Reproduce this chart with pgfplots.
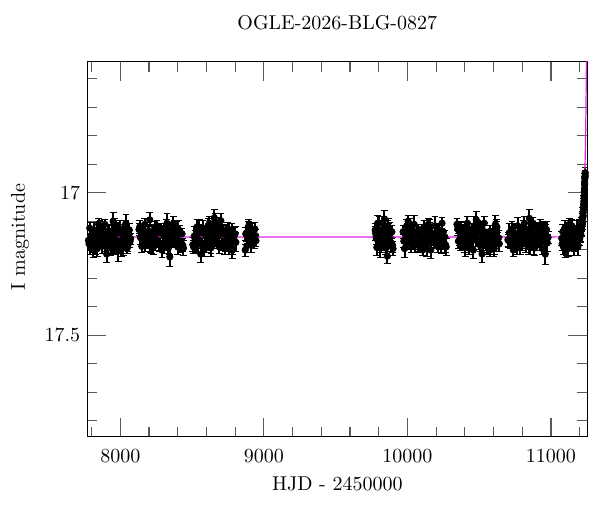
\documentclass[border=0pt]{standalone}
\usepackage{pgfplots}
\usepackage{pgfplotstable}
\pgfplotsset{compat=1.18}

\pgfplotstableread{
t mag err
7778 17.167 0.024
7787 17.124 0.019
7797 17.160 0.028
7806 17.179 0.022
7816 17.137 0.031
7825 17.196 0.020
7835 17.148 0.026
7844 17.174 0.023
7854 17.129 0.029
7863 17.157 0.021
7873 17.188 0.025
7882 17.143 0.033
7892 17.111 0.018
7901 17.170 0.027
7905 17.215 0.030
7911 17.163 0.022
7920 17.134 0.024
7930 17.182 0.019
7939 17.152 0.028
7949 17.192 0.022
7950 17.100 0.030
7958 17.120 0.031
7968 17.165 0.020
7977 17.140 0.026
7985 17.205 0.035
7987 17.176 0.023
7996 17.127 0.029
8006 17.201 0.021
8015 17.146 0.025
8025 17.158 0.033
8034 17.116 0.018
8044 17.172 0.027
8053 17.184 0.022
8063 17.131 0.024
8072 17.161 0.019
7782 17.179 0.023
7792 17.188 0.029
7801 17.152 0.021
7811 17.201 0.025
7820 17.161 0.033
7830 17.144 0.018
7839 17.196 0.027
7849 17.111 0.022
7858 17.120 0.024
7868 17.158 0.019
7877 17.168 0.028
7887 17.167 0.022
7896 17.174 0.031
7906 17.163 0.020
7915 17.140 0.026
7925 17.172 0.023
7934 17.190 0.029
7944 17.160 0.021
7953 17.157 0.025
7963 17.182 0.033
7972 17.127 0.018
7982 17.131 0.027
7991 17.180 0.022
8001 17.137 0.024
8010 17.143 0.019
8020 17.192 0.028
8029 17.146 0.022
8039 17.107 0.031
8048 17.194 0.020
8058 17.148 0.026
8068 17.170 0.023
8130 17.129 0.020
8140 17.157 0.026
8150 17.188 0.023
8160 17.143 0.029
8170 17.111 0.021
8180 17.170 0.025
8190 17.163 0.033
8200 17.134 0.018
8205 17.095 0.025
8210 17.182 0.027
8220 17.152 0.022
8230 17.192 0.024
8240 17.120 0.019
8250 17.165 0.028
8260 17.140 0.022
8270 17.176 0.031
8280 17.127 0.020
8290 17.201 0.026
8300 17.146 0.023
8310 17.158 0.029
8320 17.116 0.021
8330 17.172 0.025
8340 17.184 0.033
8345 17.225 0.035
8350 17.131 0.018
8360 17.161 0.027
8370 17.107 0.022
8380 17.168 0.024
8390 17.154 0.019
8400 17.190 0.028
8410 17.136 0.022
8420 17.180 0.031
8430 17.144 0.020
8440 17.194 0.026
8135 17.120 0.023
8145 17.158 0.029
8155 17.168 0.021
8165 17.167 0.025
8175 17.174 0.033
8185 17.163 0.018
8195 17.140 0.027
8205 17.172 0.022
8215 17.190 0.024
8225 17.160 0.019
8235 17.157 0.028
8245 17.182 0.022
8255 17.127 0.031
8265 17.131 0.020
8275 17.180 0.026
8285 17.137 0.023
8295 17.143 0.029
8305 17.192 0.021
8315 17.146 0.025
8325 17.107 0.033
8335 17.194 0.018
8345 17.148 0.027
8355 17.170 0.022
8365 17.165 0.024
8375 17.116 0.019
8385 17.154 0.028
8395 17.124 0.022
8405 17.129 0.031
8415 17.134 0.020
8425 17.176 0.026
8435 17.184 0.023
8505 17.182 0.025
8515 17.152 0.033
8524 17.192 0.018
8534 17.120 0.027
8544 17.165 0.022
8553 17.140 0.024
8560 17.215 0.030
8563 17.176 0.019
8573 17.127 0.028
8582 17.201 0.022
8592 17.146 0.031
8602 17.158 0.020
8611 17.116 0.026
8621 17.172 0.023
8631 17.184 0.029
8640 17.131 0.021
8650 17.161 0.025
8655 17.088 0.028
8660 17.107 0.033
8669 17.168 0.018
8679 17.154 0.027
8689 17.190 0.022
8698 17.136 0.024
8700 17.098 0.025
8708 17.180 0.019
8718 17.144 0.028
8727 17.194 0.022
8737 17.167 0.031
8747 17.124 0.020
8756 17.160 0.026
8766 17.179 0.023
8776 17.137 0.029
8785 17.196 0.021
8795 17.148 0.025
8805 17.174 0.033
8510 17.190 0.023
8520 17.160 0.029
8530 17.157 0.021
8540 17.182 0.025
8550 17.127 0.033
8560 17.131 0.018
8570 17.180 0.027
8580 17.137 0.022
8590 17.143 0.024
8600 17.192 0.019
8610 17.146 0.028
8620 17.107 0.022
8630 17.194 0.031
8640 17.148 0.020
8650 17.170 0.026
8660 17.165 0.023
8670 17.116 0.029
8680 17.154 0.021
8690 17.124 0.025
8700 17.129 0.033
8710 17.134 0.018
8720 17.176 0.027
8730 17.184 0.022
8740 17.136 0.024
8750 17.179 0.019
8760 17.188 0.028
8770 17.152 0.022
8780 17.201 0.031
8790 17.161 0.020
8800 17.144 0.026
8870 17.201 0.021
8878 17.146 0.025
8887 17.158 0.024
8895 17.116 0.022
8903 17.172 0.020
8912 17.184 0.026
8920 17.131 0.023
8928 17.161 0.024
8937 17.127 0.022
8945 17.168 0.021
8874 17.144 0.023
8882 17.186 0.022
8891 17.121 0.021
8899 17.130 0.025
8907 17.158 0.024
8916 17.168 0.020
8924 17.167 0.022
8932 17.174 0.023
8941 17.150 0.021
9775 17.131 0.024
9783 17.161 0.019
9792 17.107 0.028
9800 17.168 0.022
9808 17.154 0.031
9817 17.190 0.020
9825 17.136 0.026
9833 17.180 0.023
9840 17.092 0.030
9842 17.144 0.029
9850 17.194 0.021
9858 17.167 0.025
9860 17.222 0.025
9867 17.124 0.033
9875 17.160 0.018
9883 17.179 0.027
9892 17.137 0.022
9900 17.196 0.024
9779 17.143 0.023
9787 17.192 0.029
9796 17.146 0.021
9804 17.107 0.025
9812 17.194 0.033
9821 17.148 0.018
9829 17.170 0.027
9837 17.165 0.022
9846 17.116 0.024
9854 17.154 0.019
9862 17.124 0.028
9871 17.129 0.022
9879 17.134 0.031
9887 17.176 0.020
9896 17.184 0.026
9970 17.137 0.022
9980 17.196 0.031
9989 17.148 0.020
9999 17.174 0.026
10005 17.100 0.022
10009 17.129 0.023
10018 17.157 0.029
10028 17.188 0.021
10038 17.143 0.025
10047 17.111 0.033
10057 17.170 0.018
10067 17.163 0.027
10076 17.134 0.022
10086 17.182 0.024
10096 17.152 0.019
10105 17.192 0.028
10115 17.120 0.022
10125 17.165 0.031
10134 17.140 0.020
10144 17.176 0.026
10154 17.127 0.023
10163 17.201 0.029
10173 17.146 0.021
10183 17.158 0.025
10192 17.116 0.033
10202 17.172 0.018
10212 17.184 0.027
10221 17.131 0.022
10231 17.161 0.024
10241 17.107 0.019
10250 17.168 0.028
10260 17.154 0.022
10270 17.190 0.031
9975 17.170 0.023
9985 17.165 0.029
9995 17.116 0.021
10005 17.154 0.025
10015 17.124 0.033
10025 17.129 0.018
10035 17.134 0.027
10045 17.176 0.022
10055 17.184 0.024
10065 17.136 0.019
10075 17.179 0.028
10085 17.188 0.022
10095 17.152 0.031
10105 17.201 0.020
10115 17.161 0.026
10125 17.144 0.023
10135 17.196 0.029
10145 17.111 0.021
10155 17.120 0.025
10165 17.158 0.033
10175 17.168 0.018
10185 17.167 0.027
10195 17.174 0.022
10205 17.163 0.024
10215 17.140 0.019
10225 17.172 0.028
10235 17.190 0.022
10245 17.160 0.031
10255 17.157 0.020
10265 17.182 0.026
10345 17.111 0.020
10355 17.170 0.026
10364 17.163 0.023
10374 17.134 0.029
10383 17.182 0.021
10393 17.152 0.025
10402 17.192 0.033
10412 17.120 0.018
10421 17.165 0.027
10431 17.140 0.022
10440 17.176 0.024
10450 17.127 0.019
10459 17.201 0.028
10469 17.146 0.022
10478 17.158 0.031
10480 17.095 0.030
10488 17.116 0.020
10497 17.172 0.026
10507 17.184 0.023
10516 17.131 0.029
10520 17.215 0.030
10526 17.161 0.021
10535 17.107 0.025
10545 17.168 0.033
10554 17.154 0.018
10564 17.190 0.027
10573 17.136 0.022
10583 17.180 0.024
10592 17.144 0.019
10602 17.194 0.028
10611 17.167 0.022
10621 17.124 0.031
10630 17.160 0.020
10640 17.179 0.026
10350 17.127 0.023
10360 17.131 0.029
10369 17.180 0.021
10379 17.137 0.025
10389 17.143 0.033
10399 17.192 0.018
10408 17.146 0.027
10418 17.107 0.022
10428 17.194 0.024
10438 17.148 0.019
10447 17.170 0.028
10457 17.165 0.022
10467 17.116 0.031
10477 17.154 0.020
10487 17.124 0.026
10496 17.129 0.023
10506 17.134 0.029
10516 17.176 0.021
10526 17.184 0.025
10535 17.136 0.033
10545 17.179 0.018
10555 17.188 0.027
10565 17.152 0.022
10574 17.201 0.024
10584 17.161 0.019
10594 17.144 0.028
10604 17.196 0.022
10613 17.111 0.031
10623 17.120 0.020
10635 17.158 0.026
10700 17.165 0.025
10710 17.140 0.033
10719 17.176 0.018
10729 17.127 0.027
10738 17.201 0.022
10748 17.146 0.024
10758 17.158 0.019
10767 17.116 0.028
10777 17.172 0.022
10786 17.184 0.031
10796 17.131 0.020
10806 17.161 0.026
10815 17.107 0.023
10825 17.168 0.029
10834 17.154 0.021
10844 17.190 0.025
10850 17.090 0.030
10854 17.136 0.033
10863 17.180 0.018
10873 17.144 0.027
10882 17.194 0.022
10892 17.167 0.024
10902 17.124 0.019
10911 17.160 0.028
10921 17.179 0.022
10930 17.137 0.031
10940 17.196 0.020
10950 17.148 0.026
10959 17.174 0.023
10960 17.215 0.035
10969 17.129 0.029
10980 17.157 0.021
10705 17.168 0.023
10715 17.167 0.029
10725 17.174 0.021
10735 17.163 0.025
10745 17.140 0.033
10755 17.172 0.018
10765 17.190 0.027
10775 17.160 0.022
10785 17.157 0.024
10795 17.182 0.019
10805 17.127 0.028
10815 17.131 0.022
10825 17.180 0.031
10835 17.137 0.020
10845 17.143 0.026
10855 17.192 0.023
10865 17.146 0.029
10875 17.107 0.021
10885 17.194 0.025
10895 17.148 0.033
10905 17.170 0.018
10915 17.165 0.027
10925 17.116 0.022
10935 17.154 0.024
10945 17.124 0.019
10955 17.129 0.028
10965 17.134 0.022
10975 17.176 0.031
11075 17.160 0.024
11082 17.137 0.026
11089 17.179 0.022
11096 17.124 0.028
11103 17.168 0.020
11110 17.190 0.031
11117 17.144 0.023
11124 17.131 0.025
11131 17.182 0.022
11138 17.152 0.027
11145 17.116 0.021
11152 17.170 0.029
11159 17.196 0.024
11166 17.140 0.026
11172 17.161 0.022
11178 17.127 0.028
11184 17.175 0.025
11190 17.148 0.023
11195 17.120 0.027
11200 17.162 0.024
11204 17.133 0.022
11208 17.145 0.025
11211 17.110 0.023
11214 17.128 0.024
11217 17.095 0.022
11220 17.105 0.023
11222 17.072 0.021
11224 17.080 0.022
11226 17.050 0.020
11228 17.040 0.021
11230 17.012 0.020
11232 16.995 0.019
11234 16.962 0.019
11236 16.950 0.018
11238 16.940 0.018
11078 17.179 0.023
11085 17.188 0.029
11092 17.152 0.021
11099 17.201 0.025
11106 17.161 0.033
11113 17.144 0.018
11120 17.196 0.027
11127 17.111 0.022
11134 17.120 0.024
11141 17.158 0.019
11148 17.168 0.028
11155 17.167 0.022
11162 17.174 0.031
11169 17.163 0.020
11175 17.140 0.026
11181 17.172 0.023
11187 17.190 0.029
11193 17.160 0.021
11206 17.150 0.025
11212 17.125 0.024
11216 17.115 0.022
11219 17.090 0.023
11223 17.085 0.022
11227 17.060 0.021
11229 17.030 0.020
11231 17.020 0.020
11233 16.985 0.019
11235 16.970 0.019
11237 16.945 0.018
11239 16.930 0.018
}\lightcurve

\pgfplotstableread{
t mag
7770 17.155
9000 17.155
10000 17.155
11000 17.155
11100 17.1545
11140 17.1533
11170 17.1506
11190 17.1442
11200 17.1368
11210 17.1221
11215 17.110
11220 17.091
11225 17.0628
11230 17.019
11233 16.981
11236 16.931
11239 16.863
11242 16.771
11244 16.692
11246 16.593
11248 16.467
11250 16.307
}\model

\definecolor{modelmag}{RGB}{230,30,230}

\begin{document}
\begin{tikzpicture}
\path[use as bounding box] (-43.65pt,-37.65pt) rectangle (256.35pt,218.35pt);
\begin{axis}[
  scale only axis,
  width=250pt, height=187.5pt,
  xmin=7770, xmax=11253,
  ymin=16.54, ymax=17.856,
  y dir=reverse,
  xtick={8000,9000,10000,11000},
  minor xtick={7800,8200,8400,8600,8800,9200,9400,9600,9800,10200,10400,10600,10800,11200},
  ytick={16.5,17,17.5,18},
  yticklabels={16.5,17,17.5,18},
  minor ytick={16.6,16.7,16.8,16.9,17.1,17.2,17.3,17.4,17.6,17.7,17.8},
  scaled x ticks=false,
  x tick label style={/pgf/number format/1000 sep={}, yshift=-3pt},
  tick align=inside,
  major tick length=9.5pt,
  minor tick length=5pt,
  every tick/.style={black!65, line width=0.55pt},
  axis line style={line width=0.6pt},
  title={OGLE-2026-BLG-0827},
  title style={at={(axis description cs:0.5,1.0712)}, anchor=center},
  xlabel={HJD - 2450000},
  xlabel style={at={(axis description cs:0.5,-0.1253)}, anchor=center},
  ylabel={I magnitude},
  ylabel style={at={(axis description cs:-0.1346,0.5325)}, anchor=center},
  clip=true,
]
\addplot[only marks, mark=*, mark size=1.6pt, black,
  error bars/.cd, y dir=both, y explicit,
  error bar style={line width=1.0pt, black},
  error mark options={rotate=90, mark size=1.7pt, line width=0.5pt, black}]
  table[x=t, y=mag, y error=err] {\lightcurve};
\addplot[modelmag, line width=0.6pt, no marks] table[x=t, y=mag] {\model};
\end{axis}
\end{tikzpicture}
\end{document}
